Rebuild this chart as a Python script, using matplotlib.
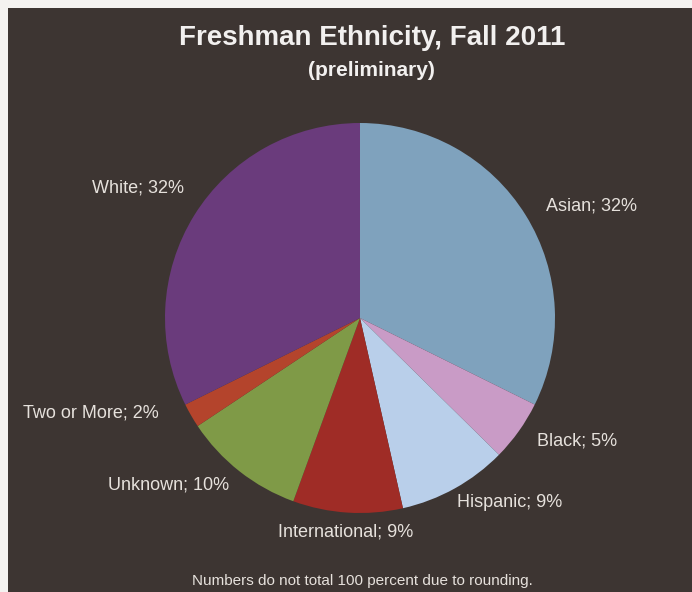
import matplotlib.pyplot as plt
from matplotlib.patches import Rectangle

# data
categories = ['Asian', 'Black', 'Hispanic', 'International', 'Unknown', 'Two or More', 'White']
percents = [32, 5, 9, 9, 10, 2, 32]
colors = ['#7fa2bd', '#c99bc6', '#b9cfea', '#9f2c26', '#7f9a47', '#b4442c', '#6a3b7c']

title = 'Freshman Ethnicity, Fall 2011'
subtitle = '(preliminary)'
footnote = 'Numbers do not total 100 percent due to rounding.'

# layout (pixel positions of label centres in the 692x592 image)
W, H = 692, 592
CX, CY, R = 360, 318, 195
label_pos = {
    'Asian': (592, 206),
    'Black': (577, 441),
    'Hispanic': (510, 502),
    'International': (346, 532),
    'Unknown': (169, 485),
    'Two or More': (91, 413),
    'White': (138, 188),
}

plt.rcParams['font.family'] = ['Liberation Sans', 'DejaVu Sans']


def px(x, y):
    # pixel -> data units (pie centre at 0,0, radius 1)
    return (x - CX) / R, (CY - y) / R


fig = plt.figure(figsize=(W / 100, H / 100), dpi=100, facecolor='#f4f2f0')
ax = fig.add_axes([0, 0, 1, 1])
x0, y1 = px(0, 0)
x1, y0 = px(W, H)
ax.set_xlim(x0, x1)
ax.set_ylim(y0, y1)
ax.set_aspect('equal')
ax.axis('off')

# dark panel
bx, by = px(8, H)
bx2, by2 = px(W, 8)
ax.add_patch(Rectangle((bx, by), bx2 - bx, by2 - by, facecolor='#3d3532',
                       edgecolor='none', zorder=0))

ax.pie(percents, colors=colors, startangle=90, counterclock=False,
       radius=1, center=(0, 0), frame=True,
       wedgeprops={'linewidth': 0, 'zorder': 2})
ax.set_xlim(x0, x1)
ax.set_ylim(y0, y1)
ax.axis('off')

for cat, p in zip(categories, percents):
    lx, ly = px(*label_pos[cat])
    ax.text(lx, ly, f'{cat}; {p}%', ha='center', va='center',
            fontsize=13, color='#e6e1dc', zorder=3)

tx, ty = px(372, 38)
ax.text(tx, ty, title, ha='center', va='center', fontsize=20,
        fontweight='bold', color='#f2f0ef')
sx, sy = px(371, 70)
ax.text(sx, sy, subtitle, ha='center', va='center', fontsize=15,
        fontweight='bold', color='#f2f0ef')
fx, fy = px(362, 581)
ax.text(fx, fy, footnote, ha='center', va='center', fontsize=11,
        color='#e6e1dc')

fig.savefig('out.png', dpi=100, facecolor=fig.get_facecolor())
